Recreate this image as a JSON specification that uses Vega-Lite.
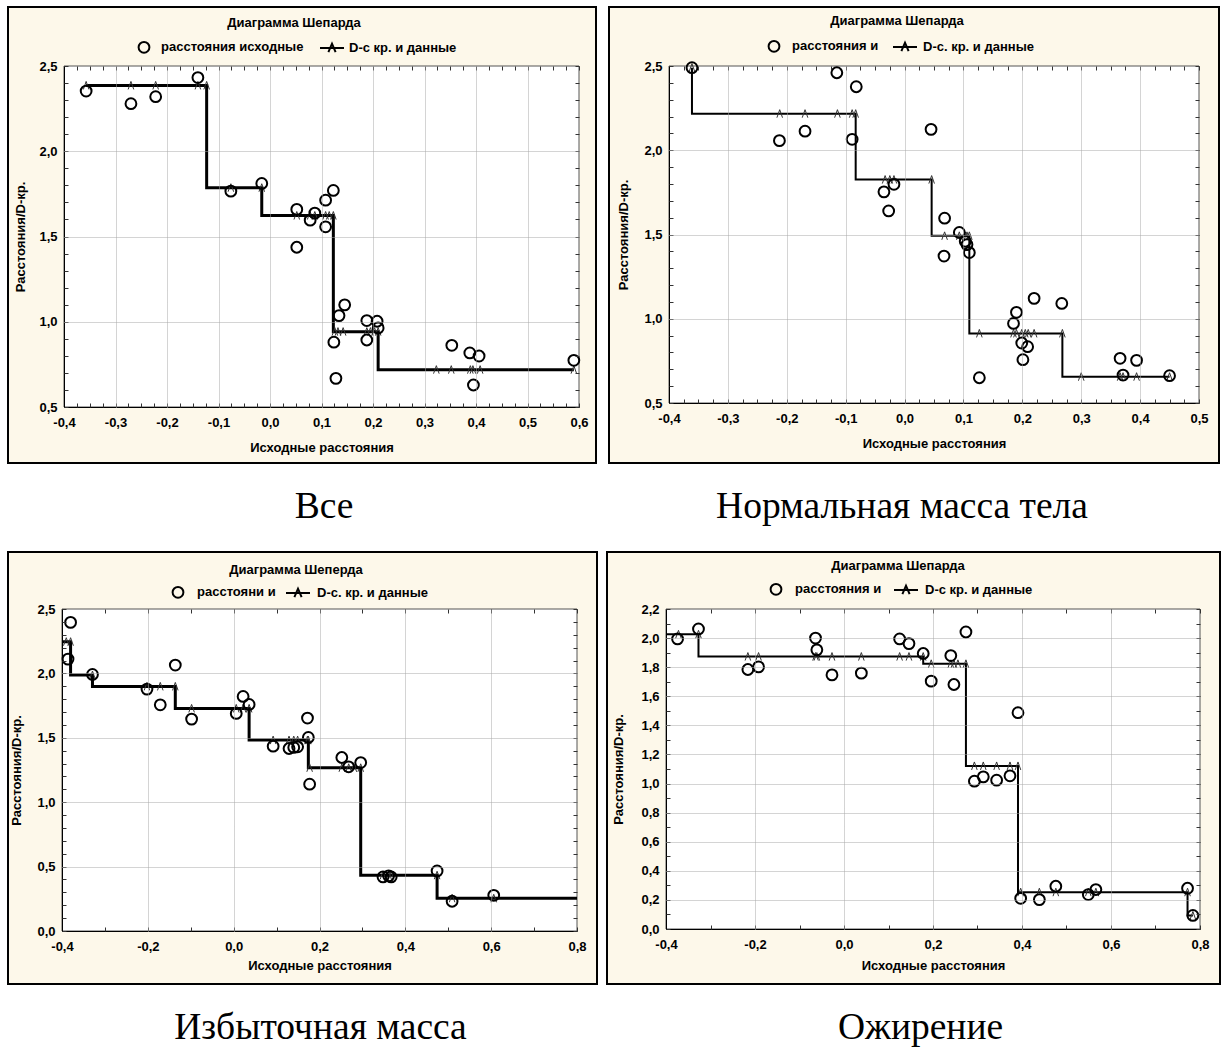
{
  "$schema": "https://vega.github.io/schema/vega-lite/v6.json",
  "background": "white",
  "padding": {"left": 7, "top": 6, "right": 0, "bottom": 0},
  "datasets": {
    "fit1": [
      {"x": -0.357, "dhat": 2.386}, {"x": -0.270, "dhat": 2.386}, {"x": -0.222, "dhat": 2.386}, {"x": -0.140, "dhat": 2.386}, {"x": -0.123, "dhat": 2.386},
      {"x": -0.076, "dhat": 1.786}, {"x": -0.016, "dhat": 1.786},
      {"x": 0.052, "dhat": 1.623}, {"x": 0.078, "dhat": 1.623}, {"x": 0.087, "dhat": 1.623}, {"x": 0.108, "dhat": 1.623}, {"x": 0.115, "dhat": 1.623}, {"x": 0.123, "dhat": 1.623},
      {"x": 0.126, "dhat": 0.942}, {"x": 0.132, "dhat": 0.942}, {"x": 0.142, "dhat": 0.942}, {"x": 0.188, "dhat": 0.942}, {"x": 0.195, "dhat": 0.942}, {"x": 0.203, "dhat": 0.942}, {"x": 0.210, "dhat": 0.942},
      {"x": 0.323, "dhat": 0.719}, {"x": 0.352, "dhat": 0.719}, {"x": 0.389, "dhat": 0.719}, {"x": 0.394, "dhat": 0.719}, {"x": 0.408, "dhat": 0.719}, {"x": 0.590, "dhat": 0.719}
    ],
    "pts1": [
      {"x": -0.357, "y": 2.353}, {"x": -0.270, "y": 2.279}, {"x": -0.222, "y": 2.320}, {"x": -0.140, "y": 2.432},
      {"x": -0.076, "y": 1.766}, {"x": -0.016, "y": 1.811},
      {"x": 0.052, "y": 1.659}, {"x": 0.052, "y": 1.437}, {"x": 0.078, "y": 1.596}, {"x": 0.087, "y": 1.637}, {"x": 0.108, "y": 1.713}, {"x": 0.108, "y": 1.557}, {"x": 0.123, "y": 1.770},
      {"x": 0.124, "y": 0.880}, {"x": 0.128, "y": 0.668}, {"x": 0.134, "y": 1.036}, {"x": 0.145, "y": 1.099}, {"x": 0.188, "y": 1.007}, {"x": 0.188, "y": 0.893}, {"x": 0.208, "y": 1.003}, {"x": 0.210, "y": 0.964},
      {"x": 0.353, "y": 0.862}, {"x": 0.388, "y": 0.817}, {"x": 0.395, "y": 0.629}, {"x": 0.406, "y": 0.799}, {"x": 0.590, "y": 0.774}
    ],
    "fit2": [
      {"x": -0.361, "dhat": 2.49},
      {"x": -0.212, "dhat": 2.217}, {"x": -0.169, "dhat": 2.217}, {"x": -0.114, "dhat": 2.217}, {"x": -0.089, "dhat": 2.217}, {"x": -0.083, "dhat": 2.217},
      {"x": -0.033, "dhat": 1.826}, {"x": -0.025, "dhat": 1.826}, {"x": -0.018, "dhat": 1.826}, {"x": 0.046, "dhat": 1.826},
      {"x": 0.068, "dhat": 1.492}, {"x": 0.093, "dhat": 1.492}, {"x": 0.103, "dhat": 1.492}, {"x": 0.106, "dhat": 1.492}, {"x": 0.110, "dhat": 1.492},
      {"x": 0.127, "dhat": 0.913}, {"x": 0.185, "dhat": 0.913}, {"x": 0.190, "dhat": 0.913}, {"x": 0.199, "dhat": 0.913}, {"x": 0.205, "dhat": 0.913}, {"x": 0.210, "dhat": 0.913}, {"x": 0.220, "dhat": 0.913}, {"x": 0.268, "dhat": 0.913},
      {"x": 0.300, "dhat": 0.656}, {"x": 0.366, "dhat": 0.656}, {"x": 0.371, "dhat": 0.656}, {"x": 0.394, "dhat": 0.656}, {"x": 0.450, "dhat": 0.656}
    ],
    "pts2": [
      {"x": -0.361, "y": 2.49}, {"x": -0.2125, "y": 2.057}, {"x": -0.169, "y": 2.113}, {"x": -0.115, "y": 2.46}, {"x": -0.089, "y": 2.065}, {"x": -0.082, "y": 2.377},
      {"x": -0.035, "y": 1.753}, {"x": -0.027, "y": 1.640}, {"x": -0.018, "y": 1.798}, {"x": 0.045, "y": 2.124},
      {"x": 0.067, "y": 1.372}, {"x": 0.068, "y": 1.597}, {"x": 0.093, "y": 1.512}, {"x": 0.103, "y": 1.460}, {"x": 0.106, "y": 1.44}, {"x": 0.110, "y": 1.393},
      {"x": 0.127, "y": 0.650}, {"x": 0.185, "y": 0.972}, {"x": 0.190, "y": 1.038}, {"x": 0.199, "y": 0.856}, {"x": 0.201, "y": 0.757}, {"x": 0.209, "y": 0.834}, {"x": 0.220, "y": 1.121}, {"x": 0.267, "y": 1.091},
      {"x": 0.366, "y": 0.765}, {"x": 0.371, "y": 0.666}, {"x": 0.394, "y": 0.753}, {"x": 0.450, "y": 0.662}
    ],
    "fit3": [
      {"x": -0.4, "dhat": 2.246}, {"x": -0.390, "dhat": 2.246}, {"x": -0.380, "dhat": 2.246},
      {"x": -0.329, "dhat": 1.987},
      {"x": -0.202, "dhat": 1.899}, {"x": -0.171, "dhat": 1.899}, {"x": -0.136, "dhat": 1.899},
      {"x": -0.098, "dhat": 1.728}, {"x": 0.006, "dhat": 1.728}, {"x": 0.022, "dhat": 1.728}, {"x": 0.036, "dhat": 1.728},
      {"x": 0.092, "dhat": 1.482}, {"x": 0.129, "dhat": 1.482}, {"x": 0.140, "dhat": 1.482}, {"x": 0.149, "dhat": 1.482}, {"x": 0.172, "dhat": 1.482}, {"x": 0.174, "dhat": 1.482},
      {"x": 0.177, "dhat": 1.267}, {"x": 0.252, "dhat": 1.267}, {"x": 0.268, "dhat": 1.267}, {"x": 0.280, "dhat": 1.267}, {"x": 0.296, "dhat": 1.267},
      {"x": 0.348, "dhat": 0.433}, {"x": 0.361, "dhat": 0.433}, {"x": 0.367, "dhat": 0.433}, {"x": 0.474, "dhat": 0.433},
      {"x": 0.509, "dhat": 0.254}, {"x": 0.606, "dhat": 0.254}, {"x": 0.8, "dhat": 0.254}
    ],
    "pts3": [
      {"x": -0.386, "y": 2.111}, {"x": -0.380, "y": 2.396}, {"x": -0.329, "y": 1.992},
      {"x": -0.202, "y": 1.878}, {"x": -0.171, "y": 1.756}, {"x": -0.136, "y": 2.065},
      {"x": -0.098, "y": 1.645}, {"x": 0.006, "y": 1.689}, {"x": 0.022, "y": 1.821}, {"x": 0.036, "y": 1.759},
      {"x": 0.092, "y": 1.435}, {"x": 0.129, "y": 1.417}, {"x": 0.140, "y": 1.425}, {"x": 0.149, "y": 1.43}, {"x": 0.172, "y": 1.653}, {"x": 0.174, "y": 1.503}, {"x": 0.177, "y": 1.140},
      {"x": 0.252, "y": 1.347}, {"x": 0.268, "y": 1.275}, {"x": 0.296, "y": 1.308},
      {"x": 0.348, "y": 0.420}, {"x": 0.361, "y": 0.428}, {"x": 0.367, "y": 0.420}, {"x": 0.474, "y": 0.466},
      {"x": 0.509, "y": 0.231}, {"x": 0.606, "y": 0.277}
    ],
    "fit4": [
      {"x": -0.4, "dhat": 2.026}, {"x": -0.372, "dhat": 2.026}, {"x": -0.327, "dhat": 2.026},
      {"x": -0.216, "dhat": 1.873}, {"x": -0.192, "dhat": 1.873}, {"x": -0.064, "dhat": 1.873}, {"x": -0.061, "dhat": 1.873}, {"x": -0.027, "dhat": 1.873}, {"x": 0.039, "dhat": 1.873}, {"x": 0.125, "dhat": 1.873}, {"x": 0.146, "dhat": 1.873}, {"x": 0.178, "dhat": 1.873},
      {"x": 0.196, "dhat": 1.823}, {"x": 0.240, "dhat": 1.823}, {"x": 0.247, "dhat": 1.823}, {"x": 0.256, "dhat": 1.823}, {"x": 0.274, "dhat": 1.823},
      {"x": 0.293, "dhat": 1.121}, {"x": 0.313, "dhat": 1.121}, {"x": 0.343, "dhat": 1.121}, {"x": 0.373, "dhat": 1.121}, {"x": 0.391, "dhat": 1.121},
      {"x": 0.397, "dhat": 0.253}, {"x": 0.439, "dhat": 0.253}, {"x": 0.476, "dhat": 0.253}, {"x": 0.549, "dhat": 0.253}, {"x": 0.566, "dhat": 0.253}, {"x": 0.772, "dhat": 0.253},
      {"x": 0.784, "dhat": 0.093}
    ],
    "pts4": [
      {"x": -0.374, "y": 1.994}, {"x": -0.327, "y": 2.063},
      {"x": -0.216, "y": 1.784}, {"x": -0.192, "y": 1.802}, {"x": -0.064, "y": 2.0}, {"x": -0.061, "y": 1.919}, {"x": -0.027, "y": 1.747}, {"x": 0.039, "y": 1.759}, {"x": 0.125, "y": 1.994}, {"x": 0.146, "y": 1.962}, {"x": 0.178, "y": 1.894},
      {"x": 0.196, "y": 1.704}, {"x": 0.240, "y": 1.88}, {"x": 0.247, "y": 1.681}, {"x": 0.274, "y": 2.042},
      {"x": 0.293, "y": 1.016}, {"x": 0.313, "y": 1.046}, {"x": 0.343, "y": 1.023}, {"x": 0.373, "y": 1.053}, {"x": 0.391, "y": 1.487},
      {"x": 0.397, "y": 0.211}, {"x": 0.439, "y": 0.202}, {"x": 0.476, "y": 0.294}, {"x": 0.549, "y": 0.237}, {"x": 0.566, "y": 0.271}, {"x": 0.772, "y": 0.280},
      {"x": 0.784, "y": 0.093}
    ]
  },
  "resolve": {"scale": {"x": "independent", "y": "independent", "shape": "independent"}, "legend": {"shape": "independent"}},
  "spacing": 24,
  "vconcat": [
    {
      "spacing": 11,
      "resolve": {"scale": {"x": "independent", "y": "independent", "shape": "independent"}, "legend": {"shape": "independent"}},
      "hconcat": [
        {
          "width": 588, "height": 456,
          "title": {"text": "Все", "orient": "bottom", "anchor": "middle", "offset": 25, "dx": 22, "baseline": "top"},
          "resolve": {"axis": {"x": "independent", "y": "independent"}},
          "layer": [
            {
              "data": {"values": [{}]},
              "mark": {"type": "rect", "fill": "white", "stroke": "#555555", "strokeWidth": 1},
              "encoding": {
                "x": {"datum": -0.4, "type": "quantitative",
                  "scale": {"domain": [-0.4, 0.6], "range": [56, 571], "nice": false, "zero": false},
                  "axis": {"orient": "bottom", "offset": -56, "zindex": 1, "ticks": false, "grid": false, "title": "Исходные расстояния", "titlePadding": 12, "labelPadding": 9,
                    "values": [-0.4, -0.3, -0.2, -0.1, 0, 0.1, 0.2, 0.3, 0.4, 0.5, 0.6],
                    "labelExpr": "(datum.value<-0.0001?'-':'')+replace(format(abs(datum.value),'.1f'),'.',',')"}},
                "x2": {"datum": 0.6},
                "y": {"datum": 0.5, "type": "quantitative",
                  "scale": {"domain": [0.5, 2.5], "range": [400, 59], "nice": false, "zero": false},
                  "axis": {"orient": "left", "offset": -56, "zindex": 1, "ticks": false, "grid": false, "title": "Расстояния/D-кр.", "titlePadding": 11, "labelPadding": 7,
                    "values": [0.5, 1.0, 1.5, 2.0, 2.5],
                    "labelExpr": "replace(format(datum.value,'.1f'),'.',',')"}},
                "y2": {"datum": 2.5}
              }
            },
            {
              "data": {"name": "fit1"},
              "mark": {"type": "line", "interpolate": "step-before", "color": "black", "strokeWidth": 3},
              "encoding": {
                "x": {"field": "x", "type": "quantitative", "scale": {"domain": [-0.4, 0.6], "range": [56, 571], "nice": false, "zero": false},
                  "axis": {"orient": "top", "offset": -400, "zindex": 1, "labels": false, "grid": false, "domain": false, "title": null, "tickSize": 4,
                    "values": [-0.4, -0.375, -0.35, -0.325, -0.3, -0.275, -0.25, -0.225, -0.2, -0.175, -0.15, -0.125, -0.1, -0.075, -0.05, -0.025, 0, 0.025, 0.05, 0.075, 0.1, 0.125, 0.15, 0.175, 0.2, 0.225, 0.25, 0.275, 0.3, 0.325, 0.35, 0.375, 0.4, 0.425, 0.45, 0.475, 0.5, 0.525, 0.55, 0.575, 0.6]}},
                "y": {"field": "dhat", "type": "quantitative", "scale": {"domain": [0.5, 2.5], "range": [400, 59], "nice": false, "zero": false},
                  "axis": {"orient": "right", "offset": -532, "zindex": 1, "labels": false, "grid": false, "domain": false, "title": null, "tickSize": 4,
                    "values": [0.5, 0.6, 0.7, 0.8, 0.9, 1.0, 1.1, 1.2, 1.3, 1.4, 1.5, 1.6, 1.7, 1.8, 1.9, 2.0, 2.1, 2.2, 2.3, 2.4, 2.5]}}
              }
            },
            {
              "data": {"name": "fit1"},
              "mark": {"type": "point", "shape": "M-0.7,1L0,-1L0.7,1", "size": 64, "filled": false, "color": "#333333", "strokeWidth": 1, "opacity": 1},
              "encoding": {
                "x": {"field": "x", "type": "quantitative", "scale": {"domain": [-0.4, 0.6], "range": [56, 571], "nice": false, "zero": false},
                  "axis": {"orient": "bottom", "offset": -397, "zindex": 1, "labels": false, "grid": false, "domain": false, "title": null, "tickSize": 4,
                    "values": [-0.4, -0.375, -0.35, -0.325, -0.3, -0.275, -0.25, -0.225, -0.2, -0.175, -0.15, -0.125, -0.1, -0.075, -0.05, -0.025, 0, 0.025, 0.05, 0.075, 0.1, 0.125, 0.15, 0.175, 0.2, 0.225, 0.25, 0.275, 0.3, 0.325, 0.35, 0.375, 0.4, 0.425, 0.45, 0.475, 0.5, 0.525, 0.55, 0.575, 0.6]}},
                "y": {"field": "dhat", "type": "quantitative", "scale": {"domain": [0.5, 2.5], "range": [400, 59], "nice": false, "zero": false},
                  "axis": {"orient": "left", "offset": -571, "zindex": 1, "labels": false, "grid": false, "domain": false, "title": null, "tickSize": 4,
                    "values": [0.5, 0.6, 0.7, 0.8, 0.9, 1.0, 1.1, 1.2, 1.3, 1.4, 1.5, 1.6, 1.7, 1.8, 1.9, 2.0, 2.1, 2.2, 2.3, 2.4, 2.5]}}
              }
            },
            {
              "data": {"name": "pts1"},
              "mark": {"type": "point", "size": 576, "filled": false, "color": "black", "strokeWidth": 2, "opacity": 1},
              "encoding": {
                "x": {"field": "x", "type": "quantitative", "scale": {"domain": [-0.4, 0.6], "range": [56, 571], "nice": false, "zero": false},
                  "axis": {"orient": "top", "offset": -400, "zindex": 1, "labels": false, "grid": false, "domain": false, "title": null, "tickSize": 341, "tickColor": "#a8a8a8", "tickDash": [1, 1],
                    "values": [-0.3, -0.2, -0.1, 0, 0.1, 0.2, 0.3, 0.4, 0.5]}},
                "y": {"field": "y", "type": "quantitative", "scale": {"domain": [0.5, 2.5], "range": [400, 59], "nice": false, "zero": false},
                  "axis": {"orient": "right", "offset": -532, "zindex": 1, "labels": false, "grid": false, "domain": false, "title": null, "tickSize": 515, "tickColor": "#a8a8a8", "tickDash": [1, 1],
                    "values": [1.0, 1.5, 2.0]}},
                "shape": {"datum": "расстояния исходные", "type": "nominal",
                  "scale": {"domain": ["расстояния исходные", "D-с кр. и данные"], "range": ["M-0.45,0A0.45,0.45,0,1,1,0.45,0A0.45,0.45,0,1,1,-0.45,0Z", "M-1,0L1,0M-0.3,0.35L0,-0.35L0.3,0.35"]},
                  "legend": {"title": "Диаграмма Шепарда", "orient": "none", "legendX": 123, "legendY": 10, "direction": "horizontal", "titleAnchor": "middle", "titleOrient": "top", "titlePadding": 4, "symbolSize": 576, "symbolStrokeWidth": 2, "symbolStrokeColor": "black", "labelOffset": 4, "columnPadding": 12, "labelLimit": 400, "padding": 0, "labelFontSize": 13, "labelFontWeight": "bold", "titleFontSize": 13, "titleFontWeight": "bold"}}
              }
            }
          ]
        },
        {
          "width": 610, "height": 456,
          "title": {"text": "Нормальная масса тела", "orient": "bottom", "anchor": "middle", "offset": 25, "dx": -12, "baseline": "top"},
          "resolve": {"axis": {"x": "independent", "y": "independent"}},
          "layer": [
            {
              "data": {"values": [{}]},
              "mark": {"type": "rect", "fill": "white", "stroke": "#555555", "strokeWidth": 1},
              "encoding": {
                "x": {"datum": -0.4, "type": "quantitative",
                  "scale": {"domain": [-0.4, 0.5], "range": [60, 590], "nice": false, "zero": false},
                  "axis": {"orient": "bottom", "offset": -60, "zindex": 1, "ticks": false, "grid": false, "title": "Исходные расстояния", "titlePadding": 12, "labelPadding": 9,
                    "values": [-0.4, -0.3, -0.2, -0.1, 0, 0.1, 0.2, 0.3, 0.4, 0.5],
                    "labelExpr": "(datum.value<-0.0001?'-':'')+replace(format(abs(datum.value),'.1f'),'.',',')"}},
                "x2": {"datum": 0.5},
                "y": {"datum": 0.5, "type": "quantitative",
                  "scale": {"domain": [0.5, 2.5], "range": [396, 59], "nice": false, "zero": false},
                  "axis": {"orient": "left", "offset": -60, "zindex": 1, "ticks": false, "grid": false, "title": "Расстояния/D-кр.", "titlePadding": 13, "labelPadding": 7,
                    "values": [0.5, 1.0, 1.5, 2.0, 2.5],
                    "labelExpr": "replace(format(datum.value,'.1f'),'.',',')"}},
                "y2": {"datum": 2.5}
              }
            },
            {
              "data": {"name": "fit2"},
              "mark": {"type": "line", "interpolate": "step-before", "color": "black", "strokeWidth": 2},
              "encoding": {
                "x": {"field": "x", "type": "quantitative", "scale": {"domain": [-0.4, 0.5], "range": [60, 590], "nice": false, "zero": false},
                  "axis": {"orient": "top", "offset": -396, "zindex": 1, "labels": false, "grid": false, "domain": false, "title": null, "tickSize": 4,
                    "values": [-0.4, -0.375, -0.35, -0.325, -0.3, -0.275, -0.25, -0.225, -0.2, -0.175, -0.15, -0.125, -0.1, -0.075, -0.05, -0.025, 0, 0.025, 0.05, 0.075, 0.1, 0.125, 0.15, 0.175, 0.2, 0.225, 0.25, 0.275, 0.3, 0.325, 0.35, 0.375, 0.4, 0.425, 0.45, 0.475, 0.5]}},
                "y": {"field": "dhat", "type": "quantitative", "scale": {"domain": [0.5, 2.5], "range": [396, 59], "nice": false, "zero": false},
                  "axis": {"orient": "right", "offset": -550, "zindex": 1, "labels": false, "grid": false, "domain": false, "title": null, "tickSize": 4,
                    "values": [0.5, 0.6, 0.7, 0.8, 0.9, 1.0, 1.1, 1.2, 1.3, 1.4, 1.5, 1.6, 1.7, 1.8, 1.9, 2.0, 2.1, 2.2, 2.3, 2.4, 2.5]}}
              }
            },
            {
              "data": {"name": "fit2"},
              "mark": {"type": "point", "shape": "M-0.7,1L0,-1L0.7,1", "size": 64, "filled": false, "color": "#333333", "strokeWidth": 1, "opacity": 1},
              "encoding": {
                "x": {"field": "x", "type": "quantitative", "scale": {"domain": [-0.4, 0.5], "range": [60, 590], "nice": false, "zero": false},
                  "axis": {"orient": "bottom", "offset": -397, "zindex": 1, "labels": false, "grid": false, "domain": false, "title": null, "tickSize": 4,
                    "values": [-0.4, -0.375, -0.35, -0.325, -0.3, -0.275, -0.25, -0.225, -0.2, -0.175, -0.15, -0.125, -0.1, -0.075, -0.05, -0.025, 0, 0.025, 0.05, 0.075, 0.1, 0.125, 0.15, 0.175, 0.2, 0.225, 0.25, 0.275, 0.3, 0.325, 0.35, 0.375, 0.4, 0.425, 0.45, 0.475, 0.5]}},
                "y": {"field": "dhat", "type": "quantitative", "scale": {"domain": [0.5, 2.5], "range": [396, 59], "nice": false, "zero": false},
                  "axis": {"orient": "left", "offset": -590, "zindex": 1, "labels": false, "grid": false, "domain": false, "title": null, "tickSize": 4,
                    "values": [0.5, 0.6, 0.7, 0.8, 0.9, 1.0, 1.1, 1.2, 1.3, 1.4, 1.5, 1.6, 1.7, 1.8, 1.9, 2.0, 2.1, 2.2, 2.3, 2.4, 2.5]}}
              }
            },
            {
              "data": {"name": "pts2"},
              "mark": {"type": "point", "size": 576, "filled": false, "color": "black", "strokeWidth": 2, "opacity": 1},
              "encoding": {
                "x": {"field": "x", "type": "quantitative", "scale": {"domain": [-0.4, 0.5], "range": [60, 590], "nice": false, "zero": false},
                  "axis": {"orient": "top", "offset": -396, "zindex": 1, "labels": false, "grid": false, "domain": false, "title": null, "tickSize": 337, "tickColor": "#a8a8a8", "tickDash": [1, 1],
                    "values": [-0.3, -0.2, -0.1, 0, 0.1, 0.2, 0.3, 0.4]}},
                "y": {"field": "y", "type": "quantitative", "scale": {"domain": [0.5, 2.5], "range": [396, 59], "nice": false, "zero": false},
                  "axis": {"orient": "right", "offset": -550, "zindex": 1, "labels": false, "grid": false, "domain": false, "title": null, "tickSize": 530, "tickColor": "#a8a8a8", "tickDash": [1, 1],
                    "values": [1.0, 1.5, 2.0]}},
                "shape": {"datum": "расстояния и", "type": "nominal",
                  "scale": {"domain": ["расстояния и", "D-с. кр. и данные"], "range": ["M-0.45,0A0.45,0.45,0,1,1,0.45,0A0.45,0.45,0,1,1,-0.45,0Z", "M-1,0L1,0M-0.3,0.35L0,-0.35L0.3,0.35"]},
                  "legend": {"title": "Диаграмма Шепарда", "orient": "none", "legendX": 152, "legendY": 8, "direction": "horizontal", "titleAnchor": "middle", "titleOrient": "top", "titlePadding": 5, "symbolSize": 576, "symbolStrokeWidth": 2, "symbolStrokeColor": "black", "labelOffset": 5, "columnPadding": 10, "labelLimit": 400, "padding": 0, "labelFontSize": 13, "labelFontWeight": "bold", "titleFontSize": 13, "titleFontWeight": "bold"}}
              }
            }
          ]
        }
      ]
    },
    {
      "spacing": 8,
      "resolve": {"scale": {"x": "independent", "y": "independent", "shape": "independent"}, "legend": {"shape": "independent"}},
      "hconcat": [
        {
          "width": 589, "height": 432,
          "title": {"text": "Избыточная масса", "orient": "bottom", "anchor": "middle", "offset": 25, "dx": 18, "baseline": "top"},
          "resolve": {"axis": {"x": "independent", "y": "independent"}},
          "layer": [
            {
              "data": {"values": [{}]},
              "mark": {"type": "rect", "fill": "white", "stroke": "#555555", "strokeWidth": 1},
              "encoding": {
                "x": {"datum": -0.4, "type": "quantitative",
                  "scale": {"domain": [-0.4, 0.8], "range": [54, 569], "nice": false, "zero": false},
                  "axis": {"orient": "bottom", "offset": -53, "zindex": 1, "ticks": false, "grid": false, "title": "Исходные расстояния", "titlePadding": 6, "labelPadding": 9,
                    "values": [-0.4, -0.2, 0, 0.2, 0.4, 0.6, 0.8],
                    "labelExpr": "(datum.value<-0.0001?'-':'')+replace(format(abs(datum.value),'.1f'),'.',',')"}},
                "x2": {"datum": 0.8},
                "y": {"datum": 0, "type": "quantitative",
                  "scale": {"domain": [0, 2.5], "range": [379, 57], "nice": false, "zero": false},
                  "axis": {"orient": "left", "offset": -54, "zindex": 1, "ticks": false, "grid": false, "title": "Расстояния/D-кр.", "titlePadding": 13, "labelPadding": 7,
                    "values": [0, 0.5, 1.0, 1.5, 2.0, 2.5],
                    "labelExpr": "replace(format(datum.value,'.1f'),'.',',')"}},
                "y2": {"datum": 2.5}
              }
            },
            {
              "data": {"name": "fit3"},
              "mark": {"type": "line", "interpolate": "step-before", "color": "black", "strokeWidth": 3},
              "encoding": {
                "x": {"field": "x", "type": "quantitative", "scale": {"domain": [-0.4, 0.8], "range": [54, 569], "nice": false, "zero": false},
                  "axis": {"orient": "top", "offset": -379, "zindex": 1, "labels": false, "grid": false, "domain": false, "title": null, "tickSize": 4,
                    "values": [-0.4, -0.3, -0.2, -0.1, 0, 0.1, 0.2, 0.3, 0.4, 0.5, 0.6, 0.7, 0.8]}},
                "y": {"field": "dhat", "type": "quantitative", "scale": {"domain": [0, 2.5], "range": [379, 57], "nice": false, "zero": false},
                  "axis": {"orient": "right", "offset": -535, "zindex": 1, "labels": false, "grid": false, "domain": false, "title": null, "tickSize": 4,
                    "values": [0, 0.1, 0.2, 0.3, 0.4, 0.5, 0.6, 0.7, 0.8, 0.9, 1.0, 1.1, 1.2, 1.3, 1.4, 1.5, 1.6, 1.7, 1.8, 1.9, 2.0, 2.1, 2.2, 2.3, 2.4, 2.5]}}
              }
            },
            {
              "data": {"name": "fit3"},
              "transform": [{"filter": "datum.x > -0.4 && datum.x < 0.8"}],
              "mark": {"type": "point", "shape": "M-0.7,1L0,-1L0.7,1", "size": 64, "filled": false, "color": "#333333", "strokeWidth": 1, "opacity": 1},
              "encoding": {
                "x": {"field": "x", "type": "quantitative", "scale": {"domain": [-0.4, 0.8], "range": [54, 569], "nice": false, "zero": false},
                  "axis": {"orient": "bottom", "offset": -375, "zindex": 1, "labels": false, "grid": false, "domain": false, "title": null, "tickSize": 4,
                    "values": [-0.4, -0.3, -0.2, -0.1, 0, 0.1, 0.2, 0.3, 0.4, 0.5, 0.6, 0.7, 0.8]}},
                "y": {"field": "dhat", "type": "quantitative", "scale": {"domain": [0, 2.5], "range": [379, 57], "nice": false, "zero": false},
                  "axis": {"orient": "left", "offset": -569, "zindex": 1, "labels": false, "grid": false, "domain": false, "title": null, "tickSize": 4,
                    "values": [0, 0.1, 0.2, 0.3, 0.4, 0.5, 0.6, 0.7, 0.8, 0.9, 1.0, 1.1, 1.2, 1.3, 1.4, 1.5, 1.6, 1.7, 1.8, 1.9, 2.0, 2.1, 2.2, 2.3, 2.4, 2.5]}}
              }
            },
            {
              "data": {"name": "pts3"},
              "mark": {"type": "point", "size": 576, "filled": false, "color": "black", "strokeWidth": 2, "opacity": 1},
              "encoding": {
                "x": {"field": "x", "type": "quantitative", "scale": {"domain": [-0.4, 0.8], "range": [54, 569], "nice": false, "zero": false},
                  "axis": {"orient": "top", "offset": -379, "zindex": 1, "labels": false, "grid": false, "domain": false, "title": null, "tickSize": 322, "tickColor": "#a8a8a8", "tickDash": [1, 1],
                    "values": [-0.2, 0, 0.2, 0.4, 0.6]}},
                "y": {"field": "y", "type": "quantitative", "scale": {"domain": [0, 2.5], "range": [379, 57], "nice": false, "zero": false},
                  "axis": {"orient": "right", "offset": -535, "zindex": 1, "labels": false, "grid": false, "domain": false, "title": null, "tickSize": 515, "tickColor": "#a8a8a8", "tickDash": [1, 1],
                    "values": [0.5, 1.0, 1.5, 2.0]}},
                "shape": {"datum": "расстояни и", "type": "nominal",
                  "scale": {"domain": ["расстояни и", "D-с. кр. и данные"], "range": ["M-0.45,0A0.45,0.45,0,1,1,0.45,0A0.45,0.45,0,1,1,-0.45,0Z", "M-1,0L1,0M-0.3,0.35L0,-0.35L0.3,0.35"]},
                  "legend": {"title": "Диаграмма Шеперда", "orient": "none", "legendX": 157, "legendY": 12, "direction": "horizontal", "titleAnchor": "middle", "titleOrient": "top", "titlePadding": 2, "symbolSize": 576, "symbolStrokeWidth": 2, "symbolStrokeColor": "black", "labelOffset": 6, "columnPadding": 6, "labelLimit": 400, "padding": 0, "labelFontSize": 13, "labelFontWeight": "bold", "titleFontSize": 13, "titleFontWeight": "bold"}}
              }
            }
          ]
        },
        {
          "width": 613, "height": 432,
          "title": {"text": "Ожирение", "orient": "bottom", "anchor": "middle", "offset": 25, "dx": 7, "baseline": "top"},
          "resolve": {"axis": {"x": "independent", "y": "independent"}},
          "layer": [
            {
              "data": {"values": [{}]},
              "mark": {"type": "rect", "fill": "white", "stroke": "#555555", "strokeWidth": 1},
              "encoding": {
                "x": {"datum": -0.4, "type": "quantitative",
                  "scale": {"domain": [-0.4, 0.8], "range": [59, 593], "nice": false, "zero": false},
                  "axis": {"orient": "bottom", "offset": -55, "zindex": 1, "ticks": false, "grid": false, "title": "Исходные расстояния", "titlePadding": 8, "labelPadding": 9,
                    "values": [-0.4, -0.2, 0, 0.2, 0.4, 0.6, 0.8],
                    "labelExpr": "(datum.value<-0.0001?'-':'')+replace(format(abs(datum.value),'.1f'),'.',',')"}},
                "x2": {"datum": 0.8},
                "y": {"datum": 0, "type": "quantitative",
                  "scale": {"domain": [0, 2.2], "range": [377, 57], "nice": false, "zero": false},
                  "axis": {"orient": "left", "offset": -59, "zindex": 1, "ticks": false, "grid": false, "title": "Расстояния/D-кр.", "titlePadding": 15, "labelPadding": 7,
                    "values": [0, 0.2, 0.4, 0.6, 0.8, 1.0, 1.2, 1.4, 1.6, 1.8, 2.0, 2.2],
                    "labelExpr": "replace(format(datum.value,'.1f'),'.',',')"}},
                "y2": {"datum": 2.2}
              }
            },
            {
              "data": {"name": "fit4"},
              "mark": {"type": "line", "interpolate": "step-before", "color": "black", "strokeWidth": 2},
              "encoding": {
                "x": {"field": "x", "type": "quantitative", "scale": {"domain": [-0.4, 0.8], "range": [59, 593], "nice": false, "zero": false},
                  "axis": {"orient": "top", "offset": -377, "zindex": 1, "labels": false, "grid": false, "domain": false, "title": null, "tickSize": 4,
                    "values": [-0.4, -0.3, -0.2, -0.1, 0, 0.1, 0.2, 0.3, 0.4, 0.5, 0.6, 0.7, 0.8]}},
                "y": {"field": "dhat", "type": "quantitative", "scale": {"domain": [0, 2.2], "range": [377, 57], "nice": false, "zero": false},
                  "axis": {"orient": "right", "offset": -554, "zindex": 1, "labels": false, "grid": false, "domain": false, "title": null, "tickSize": 4,
                    "values": [0, 0.1, 0.2, 0.3, 0.4, 0.5, 0.6, 0.7, 0.8, 0.9, 1.0, 1.1, 1.2, 1.3, 1.4, 1.5, 1.6, 1.7, 1.8, 1.9, 2.0, 2.1, 2.2]}}
              }
            },
            {
              "data": {"name": "fit4"},
              "transform": [{"filter": "datum.x > -0.4 && datum.x < 0.8"}],
              "mark": {"type": "point", "shape": "M-0.7,1L0,-1L0.7,1", "size": 64, "filled": false, "color": "#333333", "strokeWidth": 1, "opacity": 1},
              "encoding": {
                "x": {"field": "x", "type": "quantitative", "scale": {"domain": [-0.4, 0.8], "range": [59, 593], "nice": false, "zero": false},
                  "axis": {"orient": "bottom", "offset": -375, "zindex": 1, "labels": false, "grid": false, "domain": false, "title": null, "tickSize": 4,
                    "values": [-0.4, -0.3, -0.2, -0.1, 0, 0.1, 0.2, 0.3, 0.4, 0.5, 0.6, 0.7, 0.8]}},
                "y": {"field": "dhat", "type": "quantitative", "scale": {"domain": [0, 2.2], "range": [377, 57], "nice": false, "zero": false},
                  "axis": {"orient": "left", "offset": -593, "zindex": 1, "labels": false, "grid": false, "domain": false, "title": null, "tickSize": 4,
                    "values": [0, 0.1, 0.2, 0.3, 0.4, 0.5, 0.6, 0.7, 0.8, 0.9, 1.0, 1.1, 1.2, 1.3, 1.4, 1.5, 1.6, 1.7, 1.8, 1.9, 2.0, 2.1, 2.2]}}
              }
            },
            {
              "data": {"name": "pts4"},
              "mark": {"type": "point", "size": 576, "filled": false, "color": "black", "strokeWidth": 2, "opacity": 1},
              "encoding": {
                "x": {"field": "x", "type": "quantitative", "scale": {"domain": [-0.4, 0.8], "range": [59, 593], "nice": false, "zero": false},
                  "axis": {"orient": "top", "offset": -377, "zindex": 1, "labels": false, "grid": false, "domain": false, "title": null, "tickSize": 320, "tickColor": "#a8a8a8", "tickDash": [1, 1],
                    "values": [-0.2, 0, 0.2, 0.4, 0.6]}},
                "y": {"field": "y", "type": "quantitative", "scale": {"domain": [0, 2.2], "range": [377, 57], "nice": false, "zero": false},
                  "axis": {"orient": "right", "offset": -554, "zindex": 1, "labels": false, "grid": false, "domain": false, "title": null, "tickSize": 534, "tickColor": "#a8a8a8", "tickDash": [1, 1],
                    "values": [0.2, 0.4, 0.6, 0.8, 1.0, 1.2, 1.4, 1.6, 1.8, 2.0]}},
                "shape": {"datum": "расстояния и", "type": "nominal",
                  "scale": {"domain": ["расстояния и", "D-с кр. и данные"], "range": ["M-0.45,0A0.45,0.45,0,1,1,0.45,0A0.45,0.45,0,1,1,-0.45,0Z", "M-1,0L1,0M-0.3,0.35L0,-0.35L0.3,0.35"]},
                  "legend": {"title": "Диаграмма Шепарда", "orient": "none", "legendX": 156, "legendY": 8, "direction": "horizontal", "titleAnchor": "middle", "titleOrient": "top", "titlePadding": 3, "symbolSize": 576, "symbolStrokeWidth": 2, "symbolStrokeColor": "black", "labelOffset": 6, "columnPadding": 8, "labelLimit": 400, "padding": 0, "labelFontSize": 13, "labelFontWeight": "bold", "titleFontSize": 13, "titleFontWeight": "bold"}}
              }
            }
          ]
        }
      ]
    }
  ],
  "config": {
    "font": "Liberation Sans",
    "view": {"fill": "#fdf8ea", "stroke": "black", "strokeWidth": 2},
    "axis": {
      "labelFont": "Liberation Sans", "labelFontSize": 13, "labelFontWeight": "bold", "labelColor": "black",
      "titleFont": "Liberation Sans", "titleFontSize": 13, "titleFontWeight": "bold", "titleColor": "black",
      "domainColor": "black", "domainWidth": 1, "tickColor": "#333333", "tickWidth": 1,
      "labelOverlap": false, "labelFlush": false
    },
    "legend": {"labelFont": "Liberation Sans", "titleFont": "Liberation Sans", "labelColor": "black", "titleColor": "black"},
    "title": {"font": "Liberation Serif", "fontSize": 37.5, "fontWeight": "normal", "color": "black"}
  }
}
